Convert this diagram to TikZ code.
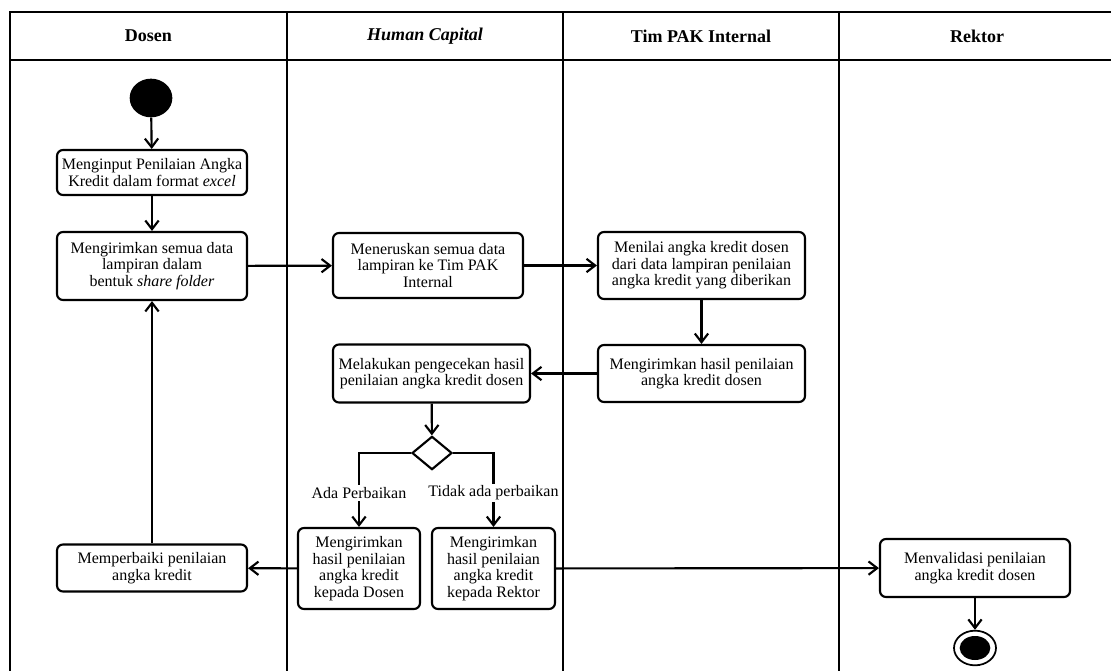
\documentclass[tikz,border=0pt]{standalone}
\usepackage{fontspec}
\setmainfont{Liberation Serif}
\usetikzlibrary{arrows.meta,shapes.geometric}
\begin{document}
\begin{tikzpicture}[x=0.75pt,y=-0.75pt,
  every node/.style={font=\fontsize{12}{12.4}\selectfont},
  act/.style={draw, line width=1.6pt, rounded corners=4.5pt, align=center, inner sep=2pt},
  flow/.style={line width=1.6pt, -{Straight Barb[length=6.5pt,width=10pt,line width=1.6pt]}},
  lane/.style={line width=1.9pt},
  lanehead/.style={font=\fontsize{13.5}{15}\selectfont\bfseries},
  branch/.style={fill=white, inner sep=1.5pt},
  decision/.style={diamond, draw, line width=1.6pt, inner sep=0pt, minimum width=30pt, minimum height=25pt}]
\useasboundingbox (0,0) rectangle (1111,671);
\clip (0,0) rectangle (1111,671);

% swimlane frame
\draw[lane] (10,671) -- (10,12) -- (1120,12);
\draw[lane] (10,60) -- (1120,60);
\foreach \x in {287,563,839} \draw[lane] (\x,12) -- (\x,671);

% lane headers
\node[lanehead] (hDosen)  at (148.5,36) {Dosen};
\node[lanehead] (hHC)     at (425,36)   {\textit{Human Capital}};
\node[lanehead] (hTim)    at (701,36)   {Tim PAK Internal};
\node[lanehead] (hRektor) at (977,36)   {Rektor};

% start node
\node[ellipse, fill=black, inner sep=0pt, minimum width=32pt, minimum height=29pt] (start) at (151,98) {};

% activities
\node[act, minimum width=142.5pt, minimum height=33.75pt] (A) at (152,172.5)
  {Menginput Penilaian Angka\\Kredit dalam format \textit{excel}};
\node[act, minimum width=142.5pt, minimum height=51pt] (B) at (152,266)
  {Mengirimkan semua data\\lampiran dalam\\bentuk \textit{share folder}};
\node[act, minimum width=142.5pt, minimum height=48.75pt] (C) at (428,265.5)
  {Meneruskan semua data\\lampiran ke Tim PAK\\Internal};
\node[act, minimum width=155.25pt, minimum height=50.25pt] (D) at (701.5,265.5)
  {Menilai angka kredit dosen\\dari data lampiran penilaian\\angka kredit yang diberikan};
\node[act, minimum width=155.25pt, minimum height=42.75pt] (E) at (701.5,373.5)
  {Mengirimkan hasil penilaian\\angka kredit dosen};
\node[act, minimum width=147.75pt, minimum height=43.5pt] (F) at (431.5,373.5)
  {Melakukan pengecekan hasil\\penilaian angka kredit dosen};
\node[decision] (dec) at (432,453) {};
\node[act, minimum width=91.5pt, minimum height=60.75pt] (G) at (359,568.5)
  {Mengirimkan\\hasil penilaian\\angka kredit\\kepada Dosen};
\node[act, minimum width=92.25pt, minimum height=60.75pt] (H) at (493.5,568.5)
  {Mengirimkan\\hasil penilaian\\angka kredit\\kepada Rektor};
\node[act, minimum width=142.5pt, minimum height=35.25pt] (I) at (152,568)
  {Memperbaiki penilaian\\angka kredit};
\node[act, minimum width=142.5pt, minimum height=43.5pt] (J) at (975,568)
  {Menvalidasi penilaian\\angka kredit dosen};

% final node
\node[ellipse, draw, line width=1.3pt, inner sep=0pt, minimum width=31.5pt, minimum height=26pt] (end) at (975,648) {};
\node[ellipse, fill=black, inner sep=0pt, minimum width=23pt, minimum height=18pt] (endcore) at (end.center) {};

% flows
\draw[flow] (start) -- (A);
\draw[flow] (A) -- (B);
\draw[flow] (B) -- (C);
\draw[flow] (C) -- (D);
\draw[flow] (D) -- (E);
\draw[flow] (E) -- (F);
\draw[flow] (F) -- (dec);
\draw[flow] (dec.west) -| node[branch, pos=0.77] (lblAda) {Ada Perbaikan} (G.north);
\draw[flow] (dec.east) -| node[branch, pos=0.77] (lblTidak) {Tidak ada perbaikan} (H.north);
\draw[flow] (G) -- (I);
\draw[flow] (I) -- (B);
\draw[flow] (H) -- (J);
\draw[flow] (J) -- (end);
\end{tikzpicture}
\end{document}
